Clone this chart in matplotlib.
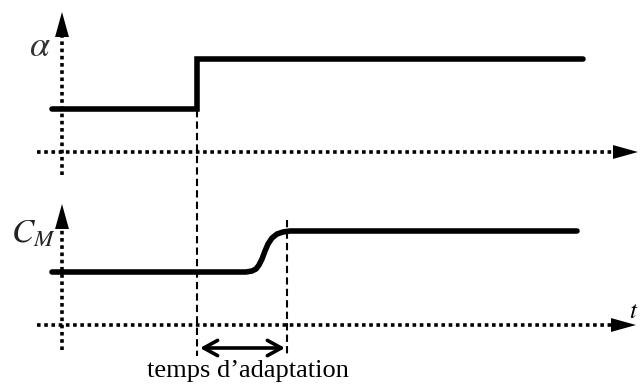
import matplotlib.pyplot as plt
from matplotlib.patches import FancyArrowPatch

plt.rcParams["mathtext.fontset"] = "stix"

# Chronogramme : echelon de alpha puis reponse du couple C_M
# coordonnees en pixels de l'image (y vers le bas)
alpha_t = [52, 197, 197, 583]
alpha_v = [109, 109, 59, 59]

cm_t = [52, 246, 252, 256, 259, 262, 265, 268, 272, 277, 283, 290, 577]
cm_v = [272, 272, 271, 269, 265, 259, 251, 244, 238, 234, 232, 231, 231]

t_echelon = 197
t_fin_adapt = 287
label_adapt = "temps d\u2019adaptation"

fig = plt.figure(figsize=(6.43, 3.85), dpi=100)
ax = fig.add_axes([0, 0, 1, 1])
ax.set_xlim(0, 643)
ax.set_ylim(385, 0)
ax.axis("off")

dot = dict(color="black", lw=2.6, linestyle=(0, (1, 1.0)), dash_capstyle="butt")
dash = dict(color="black", lw=1.5, linestyle=(0, (3.5, 2)))


def fleche(x0, y0, x1, y1):
    ax.add_patch(FancyArrowPatch((x0, y0), (x1, y1), arrowstyle="-|>,head_length=1.8,head_width=0.5",
                                 mutation_scale=10, color="black", lw=0, shrinkA=0, shrinkB=0))


# axes du haut
ax.plot([62, 62], [175, 36], **dot)
fleche(62, 37, 62, 12)
ax.plot([37, 614], [152, 152], **dot)
fleche(613, 152, 638, 152)
ax.text(51, 46, r"$\alpha$", fontsize=26, ha="right", va="center", color="#333333")

# axes du bas
ax.plot([62, 62], [350, 228], **dot)
fleche(62, 229, 62, 204)
ax.plot([37, 612], [325, 325], **dot)
fleche(611, 325, 636, 325)
ax.text(11, 233, "$C_M$", fontsize=24, ha="left", va="center", color="#222222")
ax.text(629, 311, "$t$", fontsize=18, ha="left", va="center")

# verticales en tirets
ax.plot([t_echelon, t_echelon], [110, 356], **dash)
ax.plot([t_fin_adapt, t_fin_adapt], [220, 356], **dash)

# signaux
ax.plot(alpha_t, alpha_v, color="black", lw=4.0, solid_capstyle="round", solid_joinstyle="miter")
ax.plot(cm_t, cm_v, color="black", lw=4.0, solid_capstyle="round", solid_joinstyle="round")

# temps d'adaptation
ax.add_patch(FancyArrowPatch((t_echelon + 3, 348), (t_fin_adapt - 2, 348),
                             arrowstyle="<->,head_length=1.0,head_width=0.55",
                             mutation_scale=10, color="black", lw=2.6, shrinkA=0, shrinkB=0))
ax.text(248, 371, label_adapt, fontsize=19, ha="center", va="center", family="Liberation Serif")

fig.savefig("out.png", dpi=100)
